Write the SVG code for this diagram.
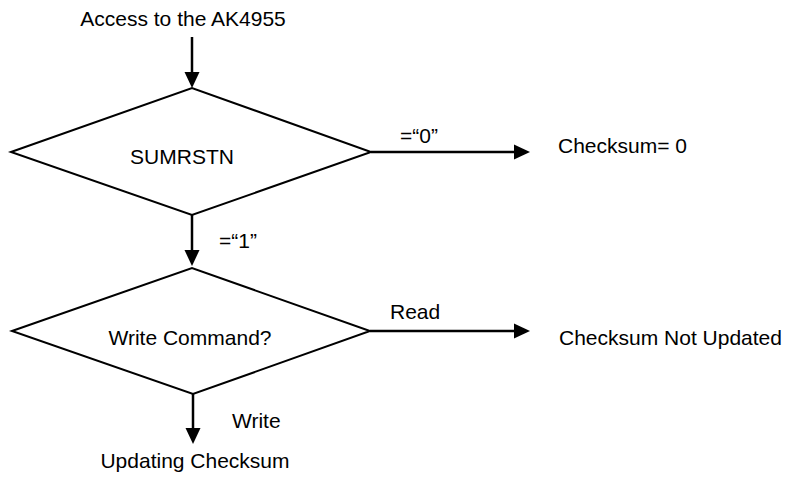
<svg xmlns="http://www.w3.org/2000/svg" width="789" height="477" viewBox="0 0 789 477">
<style>
text{font-family:"Liberation Sans",Arial,sans-serif;font-size:21px;fill:#000}
.d{fill:#fff;stroke:#000;stroke-width:2}
.c{stroke:#000;stroke-width:2.5;fill:none}
.h{fill:#000;stroke:none}
</style>
<rect width="789" height="477" fill="#fff"/>
<g id="start"><text x="183" y="26" text-anchor="middle">Access to the AK4955</text></g>
<g id="sumrstn"><polygon class="d" points="11,152 192,88 371,152 192,215"/><text x="182" y="164" text-anchor="middle">SUMRSTN</text></g>
<g id="checksum0"><text x="558" y="153">Checksum= 0</text></g>
<g id="writecmd"><polygon class="d" points="12,331 192,268 370,331 193,394"/><text x="190" y="345" text-anchor="middle">Write Command?</text></g>
<g id="notupdated"><text x="559" y="345">Checksum Not Updated</text></g>
<g id="updating"><text x="195" y="468" text-anchor="middle">Updating Checksum</text></g>
<g id="connectors">
<line class="c" x1="192" y1="37" x2="192" y2="74"/><polygon class="h" points="184.5,72 199.5,72 192,88"/>
<line class="c" x1="371" y1="152" x2="516" y2="152"/><polygon class="h" points="514,144.5 514,159.5 530,152"/>
<text x="400" y="143">=“0”</text>
<line class="c" x1="192" y1="215" x2="192" y2="252"/><polygon class="h" points="184.5,250 199.5,250 192,266"/>
<text x="219" y="248">=“1”</text>
<line class="c" x1="370" y1="331" x2="516" y2="331"/><polygon class="h" points="514,323.5 514,338.5 530,331"/>
<text x="390" y="319">Read</text>
<line class="c" x1="193" y1="394" x2="193" y2="430"/><polygon class="h" points="185.5,428 200.5,428 193,444"/>
<text x="232" y="428">Write</text>
</g>
</svg>
